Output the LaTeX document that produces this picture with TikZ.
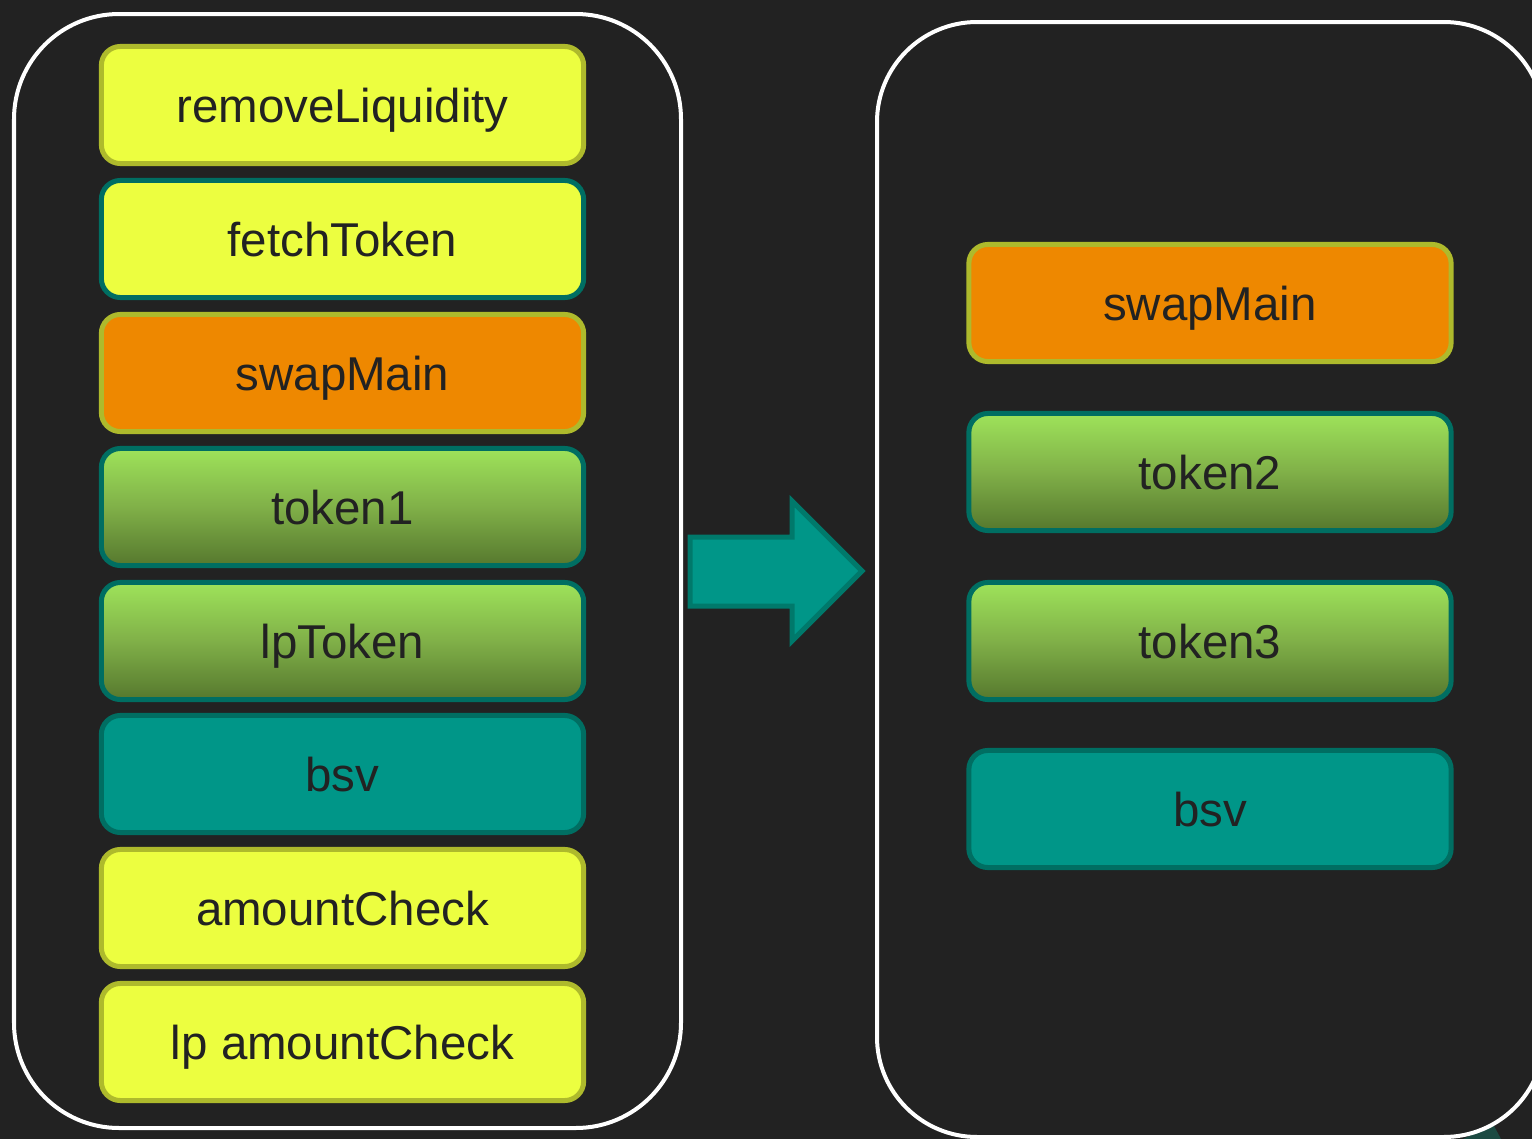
\documentclass[tikz,border=0pt]{standalone}
\usepackage{fontspec}
\setmainfont{Liberation Sans}
\definecolor{bg}{HTML}{222222}
\definecolor{ink}{HTML}{222222}
\definecolor{lemon}{HTML}{ECFE40}
\definecolor{olive}{HTML}{AEBA2C}
\definecolor{amber}{HTML}{EE8800}
\definecolor{tealfill}{HTML}{009688}
\definecolor{tealedge}{HTML}{00796B}
\definecolor{deepteal}{HTML}{006E62}
\definecolor{leaftop}{HTML}{9EE35A}
\definecolor{leafmid}{HTML}{80B048}
\definecolor{leafbot}{HTML}{56782E}
\definecolor{shadeteal}{HTML}{1B4A42}
\tikzset{
  card/.style={rounded corners=0.19cm, line width=0.05cm, minimum width=4.82cm,
    minimum height=1.17cm, inner sep=0pt, text=ink, text height=0.34cm, text depth=0cm,
    font=\fontsize{13.5pt}{16pt}\selectfont},
  yellowcard/.style={card, fill=lemon, draw=olive},
  yellowtealcard/.style={card, fill=lemon, draw=deepteal},
  orangecard/.style={card, fill=amber, draw=olive},
  greencard/.style={card, draw=deepteal, top color=leaftop, bottom color=leafbot, middle color=leafmid},
  tealcard/.style={card, fill=tealfill, draw=deepteal},
  panel/.style={draw=white, line width=0.04cm, rounded corners=1.05cm},
}
\begin{document}
\begin{tikzpicture}[x=0.01cm, y=-0.01cm]
  \useasboundingbox (0,0) rectangle (1532,1139);
  \fill[bg] (0,0) rectangle (1532,1139);
  \begin{scope}
    \clip (0,0) rectangle (1532,1139);
    % edge of a shape lying past the lower right corner
    \fill[shadeteal] (1463,1139) -- (1489,1126) -- (1494,1126) -- (1501,1139) -- cycle;
    % the two panels
    \draw[panel] (14,14) rectangle (681,1128);
    \draw[panel, rounded corners=1cm] (877,22) rectangle (1544,1137);
  \end{scope}

  % left stack
  \node[yellowcard]     (removeLiquidity) at (342.5,105)  {removeLiquidity};
  \node[yellowtealcard] (fetchToken)      at (342.5,239)  {fetchToken};
  \node[orangecard]     (swapMainL)       at (342.5,373)  {swapMain};
  \node[greencard]      (tokenA)          at (342.5,507)  {token1};
  \node[greencard]      (lpToken)         at (342.5,641)  {lpToken};
  \node[tealcard]       (bsvL)            at (342.5,774)  {bsv};
  \node[yellowcard]     (amountCheck)     at (342.5,908)  {amountCheck};
  \node[yellowcard]     (lpAmountCheck)   at (342.5,1042) {lp amountCheck};

  % right stack
  \node[orangecard] (swapMainR) at (1210,303) {swapMain};
  \node[greencard]  (tokenB)    at (1210,472) {token2};
  \node[greencard]  (tokenC)    at (1210,641) {token3};
  \node[tealcard]   (bsvR)      at (1210,809) {bsv};

  % block arrow between the panels
  \draw[fill=tealfill, draw=tealedge, line width=0.05cm, line join=miter]
    (690,537) -- (792,537) -- (792,501) -- (862,571) -- (792,641) -- (792,606) -- (690,606) -- cycle;
\end{tikzpicture}
\end{document}
